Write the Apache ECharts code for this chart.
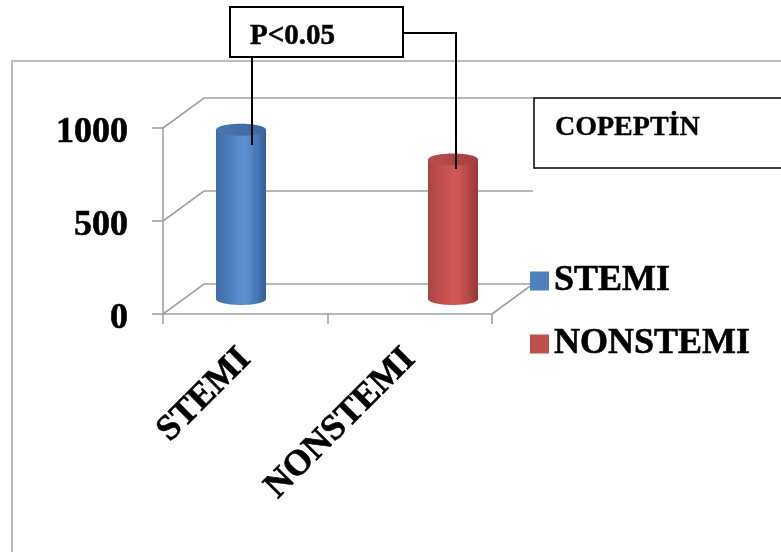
<!DOCTYPE html>
<html>
<head>
<meta charset="utf-8">
<script src="https://cdn.jsdelivr.net/npm/echarts@6/dist/echarts.min.js"></script>
<style>
  html, body { margin: 0; padding: 0; background: #fff; }
  #main { width: 781px; height: 552px; }
</style>
</head>
<body>
<div id="main"></div>
<script>
// values
var categories = ['STEMI', 'NONSTEMI'];
var copeptin = [910, 750];
var yTicks = [0, 500, 1000];
var colors = ['#4f81bd', '#c0504d'];
var pText = 'P<0.05';
var boxTitle = 'COPEPTİN';

var serif = '"Liberation Serif", "Times New Roman", serif';
var gridGray = '#a0a0a0';
var depthX = 41, depthY = -30;

// cylinder gradients (left edge, middle, right edge) and top cap
var bodyStops = [
  [[0, '#3d6ba6'], [0.5, '#5a8fd1'], [0.62, '#5a8ecf'], [1, '#33609a']],
  [[0, '#ad4441'], [0.5, '#d25955'], [0.62, '#cf5753'], [1, '#973735']]
];
var capColors = [['#4876b3', '#3b679f'], ['#b94d4a', '#a24240']];

function ellipsePts(cx, cy, rx, ry, a0, a1, n) {
  var pts = [];
  for (var i = 0; i <= n; i++) {
    var a = a0 + (a1 - a0) * i / n;
    pts.push([cx + rx * Math.cos(a), cy + ry * Math.sin(a)]);
  }
  return pts;
}

// back wall + floor lines drawn from the front axis positions
function renderFrame(params, api) {
  var cs = params.coordSys;
  var v = api.value(1);
  var y = api.coord([0, v])[1];
  var x0 = cs.x, x1 = cs.x + cs.width;
  var style = { stroke: gridGray, lineWidth: 1.6, fill: null };
  var children = [{
    type: 'polyline',
    shape: { points: [[x0, y], [x0 + depthX, y + depthY], [x1 + depthX, y + depthY]] },
    style: style
  }];
  if (v === 0) {
    children.push({
      type: 'line',
      shape: { x1: x1, y1: y, x2: x1 + depthX, y2: y + depthY },
      style: style
    });
  }
  return { type: 'group', children: children };
}

function makeCylinder(idx) {
  return function (params, api) {
    var top = api.coord([api.value(0), api.value(1)]);
    var base = api.coord([api.value(0), 0]);
    var cx = top[0], rx = 25, ry = 6;
    // sides plus the lower half of the base ellipse
    var body = [[cx - rx, top[1]]]
      .concat(ellipsePts(cx, base[1], rx, ry, Math.PI, 0, 30).map(function (p, i) {
        var a = Math.PI - Math.PI * i / 30;
        return [cx + rx * Math.cos(a), base[1] + ry * Math.sin(a)];
      }))
      .concat([[cx + rx, top[1]]]);
    var grad = {
      type: 'linear', x: 0, y: 0, x2: 1, y2: 0,
      colorStops: bodyStops[idx].map(function (s) { return { offset: s[0], color: s[1] }; })
    };
    var capGrad = {
      type: 'linear', x: 0, y: 0, x2: 1, y2: 0,
      colorStops: [{ offset: 0, color: capColors[idx][0] }, { offset: 1, color: capColors[idx][1] }]
    };
    return {
      type: 'group',
      children: [
        { type: 'polygon', shape: { points: body }, style: { fill: grad } },
        { type: 'polygon', shape: { points: ellipsePts(cx, top[1], rx, ry, 0, Math.PI * 2, 48) }, style: { fill: capGrad } }
      ]
    };
  };
}

var boldText = {
  color: '#000',
  fontFamily: serif,
  fontWeight: 'bold',
  fontSize: 36,
  textBorderColor: '#000',
  textBorderWidth: 0.6
};

var chart = echarts.init(document.getElementById('main'));

var option = {
  backgroundColor: '#fff',
  animation: false,
  grid: [
    { left: 163, top: 128, width: 329, height: 186, outerBoundsMode: 'none' },
    { left: 135, top: 113, width: 424, height: 186, outerBoundsMode: 'none' }
  ],
  xAxis: [{
    type: 'category',
    gridIndex: 0,
    data: categories,
    boundaryGap: true,
    axisLine: { lineStyle: { color: gridGray, width: 1.6 } },
    axisTick: { show: true, length: 10, lineStyle: { color: gridGray, width: 1.6 } },
    axisLabel: Object.assign({ rotate: 45, margin: 40, interval: 0 }, boldText)
  }, {
    type: 'category',
    gridIndex: 1,
    data: categories,
    show: false
  }],
  yAxis: [{
    type: 'value',
    gridIndex: 0,
    min: 0,
    max: 1000,
    interval: 500,
    axisLine: { show: true, lineStyle: { color: gridGray, width: 1.6 } },
    axisTick: { show: true, length: 11, lineStyle: { color: gridGray, width: 1.6 } },
    splitLine: { show: false },
    axisLabel: Object.assign({
      margin: 35,
      formatter: function (v) { return yTicks.indexOf(v) >= 0 ? '{n|' + v + '}' : ''; },
      rich: {
        n: Object.assign({ padding: [10, 0, 0, 0] }, boldText)
      }
    }, boldText)
  }, {
    type: 'value',
    gridIndex: 1,
    min: 0,
    max: 1000,
    show: false
  }],
  legend: {
    orient: 'vertical',
    left: 525,
    top: 254,
    icon: 'rect',
    itemWidth: 19,
    itemHeight: 19,
    itemGap: 19,
    textStyle: Object.assign({ lineHeight: 38, padding: [6, 0, 0, 0] }, boldText),
    data: [
      { name: categories[0], itemStyle: { color: colors[0] } },
      { name: categories[1], itemStyle: { color: colors[1] } }
    ]
  },
  series: [{
    type: 'custom',
    name: 'frame',
    xAxisIndex: 0,
    yAxisIndex: 0,
    clip: false,
    silent: true,
    z: 1,
    renderItem: renderFrame,
    data: yTicks.map(function (v) { return [0, v]; })
  }].concat(categories.map(function (c, i) {
    return {
      type: 'custom',
      name: c,
      xAxisIndex: 1,
      yAxisIndex: 1,
      clip: false,
      z: 3,
      itemStyle: { color: colors[i] },
      renderItem: makeCylinder(i),
      data: [[i, copeptin[i]]]
    };
  })),
  graphic: [
    // outer chart border
    { type: 'rect', shape: { x: 12, y: 61, width: 900, height: 700 },
      style: { fill: null, stroke: '#a6a6a6', lineWidth: 1.5 }, z: 0 },
    // P box and its connectors
    { type: 'rect', shape: { x: 230, y: 7, width: 173, height: 50 },
      style: { fill: '#fff', stroke: '#000', lineWidth: 2 }, z: 10 },
    { type: 'text', style: { x: 250, y: 37, text: pText, fill: '#000',
      font: 'bold 29px ' + serif, verticalAlign: 'middle', stroke: '#000', lineWidth: 0.5 }, z: 11 },
    { type: 'polyline', shape: { points: [[252, 57], [252, 145]] },
      style: { fill: null, stroke: '#000', lineWidth: 2 }, z: 10 },
    { type: 'polyline', shape: { points: [[403, 33], [456, 33], [456, 169]] },
      style: { fill: null, stroke: '#000', lineWidth: 2 }, z: 10 },
    // series title box
    { type: 'rect', shape: { x: 534, y: 98, width: 300, height: 70 },
      style: { fill: '#fff', stroke: '#000', lineWidth: 1.5 }, z: 10 },
    { type: 'text', style: { x: 555, y: 128, text: boxTitle, fill: '#000',
      font: 'bold 28px ' + serif, verticalAlign: 'middle', stroke: '#000', lineWidth: 0.4 }, z: 11 }
  ]
};

chart.setOption(option);
</script>
</body>
</html>
